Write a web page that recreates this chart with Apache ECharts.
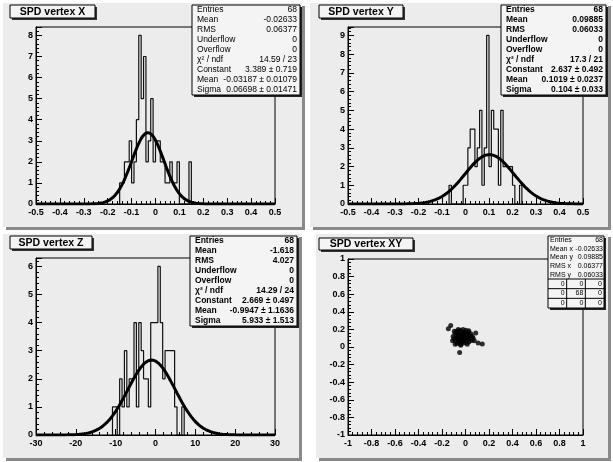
<!DOCTYPE html>
<html>
<head>
<meta charset="utf-8">
<script src="https://cdn.jsdelivr.net/npm/echarts@6/dist/echarts.min.js"></script>
<style>
  html, body { margin: 0; padding: 0; background: #fff; }
  #main { width: 613px; height: 462px; }
</style>
</head>
<body>
<div id="main"></div>
<script>
// ---- data ----
// SPD vertex X : bins of 0.01 starting at -0.15
const xBinLow = -0.15, xBinW = 0.01;
const xCounts = [1, 1, 2, 2, 3, 1, 2, 4, 8, 5, 7, 2, 3, 5, 2, 3, 3, 2, 2, 1, 1, 2, 1, 1, 2, 0, 0, 0, 0, 2];
const xFit = { constant: 3.389, mean: -0.03187, sigma: 0.06698 };
const xStats = [
  ['Entries', '68'], ['Mean', '-0.02633'], ['RMS', '0.06377'], ['Underflow', '0'], ['Overflow', '0'],
  ['χ² / ndf', '14.59 / 23'], ['Constant', '3.389 ± 0.719'], ['Mean', '-0.03187 ± 0.01079'], ['Sigma', '0.06698 ± 0.01471']
];

// SPD vertex Y : bins of 0.01 starting at -0.07
const yBinLow = -0.07, yBinW = 0.01;
const yCounts = [1, 0, 0, 0, 0, 0, 1, 1, 3, 4, 4, 2, 3, 5, 1, 3, 9, 2, 5, 4, 4, 1, 5, 2, 2, 2, 2, 1, 0, 0, 1];
const yFit = { constant: 2.637, mean: 0.1019, sigma: 0.104 };
const yStats = [
  ['Entries', '68'], ['Mean', '0.09885'], ['RMS', '0.06033'], ['Underflow', '0'], ['Overflow', '0'],
  ['χ² / ndf', '17.3 / 21'], ['Constant', '2.637 ± 0.492'], ['Mean', '0.1019 ± 0.0237'], ['Sigma', '0.104 ± 0.033']
];

// SPD vertex Z : bins of 0.6 starting at -10.8
const zBinLow = -10.8, zBinW = 0.6;
const zCounts = [1, 1, 0, 2, 1, 3, 1, 2, 2, 4, 1, 4, 3, 2, 2, 1, 4, 4, 4, 6, 4, 2, 3, 3, 3, 3, 1, 0, 0, 1];
const zFit = { constant: 2.669, mean: -0.9947, sigma: 5.933 };
const zStats = [
  ['Entries', '68'], ['Mean', '-1.618'], ['RMS', '4.027'], ['Underflow', '0'], ['Overflow', '0'],
  ['χ² / ndf', '14.29 / 24'], ['Constant', '2.669 ± 0.497'], ['Mean', '-0.9947 ± 1.1636'], ['Sigma', '5.933 ± 1.513']
];

// SPD vertex XY : points
const xyX = [-0.146, -0.126, -0.050, 0.143, 0.087, 0.075, 0.108, -0.105, -0.098, -0.090, -0.085, -0.080, -0.076, -0.072,
  -0.068, -0.064, -0.060, -0.057, -0.054, -0.050, -0.047, -0.044, -0.041, -0.038, -0.035, -0.032, -0.030, -0.027,
  -0.024, -0.021, -0.018, -0.015, -0.012, -0.010, -0.007, -0.004, 0.000, 0.003, 0.006, 0.010, 0.013, 0.017, 0.021,
  0.025, 0.030, 0.035, 0.040, 0.046, 0.052, -0.110, -0.095, -0.088, -0.062, -0.040, -0.028, -0.020, -0.008, 0.008,
  0.015, 0.028, 0.058, 0.065, -0.070, -0.052, -0.036, -0.003, 0.020, -0.078];
const xyY = [0.207, 0.244, -0.063, 0.033, 0.160, 0.070, 0.045, 0.120, 0.095, 0.150, 0.070, 0.110, 0.180, 0.040,
  0.130, 0.090, 0.160, 0.060, 0.110, 0.140, 0.080, 0.190, 0.030, 0.120, 0.100, 0.160, 0.060, 0.130,
  0.085, 0.200, 0.110, 0.045, 0.150, 0.090, 0.170, 0.070, 0.120, 0.190, 0.100, 0.050, 0.140, 0.085, 0.170,
  0.110, 0.060, 0.130, 0.095, 0.150, 0.075, 0.070, 0.180, 0.030, 0.200, 0.020, 0.095, 0.140, 0.125, 0.155,
  0.030, 0.185, 0.120, 0.100, 0.100, 0.125, 0.050, 0.105, 0.125, 0.145];
const xyStats = [['Entries', '68'], ['Mean x', '-0.02633'], ['Mean y', '0.09885'], ['RMS x', '0.06377'], ['RMS y', '0.06033']];
const xyCells = [[0, 0, 0], [0, 68, 0], [0, 0, 0]];

const titles = ['SPD vertex X', 'SPD vertex Y', 'SPD vertex Z', 'SPD vertex XY'];

// ---- helpers ----
function histLine(lo, w, counts) {
  let pts = [[lo, 0]];
  counts.forEach(function (c, i) {
    pts.push([lo + i * w, c]);
    pts.push([lo + (i + 1) * w, c]);
  });
  pts.push([lo + counts.length * w, 0]);
  return pts;
}
// fitted gaussian drawn from the fit parameters in the stat box
function gausLine(p, xmin, xmax) {
  let pts = [];
  let n = 300;
  for (let i = 0; i <= n; i++) {
    let x = xmin + (xmax - xmin) * i / n;
    let t = (x - p.mean) / p.sigma;
    pts.push([x, p.constant * Math.exp(-0.5 * t * t)]);
  }
  return pts;
}

const FONT = 'Liberation Sans, Arial, sans-serif';
const labelStyle = { color: '#000', fontSize: 9, fontWeight: 'bold', fontFamily: FONT };

function xAxis(gi, min, max, interval, dec) {
  return {
    type: 'value', gridIndex: gi, min: min, max: max, interval: interval,
    axisLine: { show: true, onZero: false, lineStyle: { color: '#000', width: 1 } },
    axisTick: { show: true, inside: true, length: 6, lineStyle: { color: '#000' } },
    minorTick: { show: true, splitNumber: 5, length: 3, lineStyle: { color: '#000' } },
    splitLine: { show: false },
    axisLabel: Object.assign({ margin: 4, formatter: function (v) { return String(+v.toFixed(dec)); } }, labelStyle)
  };
}
function yAxis(gi, min, max, interval, dec) {
  return {
    type: 'value', gridIndex: gi, min: min, max: max, interval: interval,
    axisLine: { show: true, onZero: false, lineStyle: { color: '#000', width: 1 } },
    axisTick: { show: true, inside: true, length: 6, lineStyle: { color: '#000' } },
    minorTick: { show: true, splitNumber: 5, length: 3, lineStyle: { color: '#000' } },
    splitLine: { show: false },
    axisLabel: Object.assign({
      margin: 3,
      formatter: function (v) {
        let r = +v.toFixed(dec);
        if (Math.abs(v - r) > 1e-6) return '';
        return String(r);
      }
    }, labelStyle)
  };
}

// ---- pads, title boxes and stat boxes ----
const pads = [
  { x: 3, y: 3, w: 299, h: 224 },
  { x: 310, y: 3, w: 298, h: 224 },
  { x: 3, y: 234, w: 296, h: 224 },
  { x: 316, y: 234, w: 292, h: 224 }
];
const titleBoxes = [
  { x: 10, y: 5, w: 85, h: 13 },
  { x: 319, y: 5, w: 84, h: 13 },
  { x: 10, y: 236, w: 82, h: 13 },
  { x: 319, y: 238, w: 94, h: 12 }
];
const statBoxes = [
  { x: 192, y: 5, w: 108, h: 90, rows: xStats, bold: false },
  { x: 501, y: 5, w: 105, h: 90, rows: yStats, bold: true },
  { x: 190, y: 236, w: 107, h: 90, rows: zStats, bold: true }
];

let graphic = [];
pads.forEach(function (p) {
  graphic.push({ type: 'rect', z: -10, shape: { x: p.x + 3, y: p.y + 3, width: p.w, height: p.h }, style: { fill: '#8a8a8a' } });
  graphic.push({ type: 'rect', z: -9, shape: { x: p.x, y: p.y, width: p.w, height: p.h }, style: { fill: '#ececec' } });
});
titleBoxes.forEach(function (b, i) {
  graphic.push({ type: 'rect', z: 50, shape: { x: b.x + 2, y: b.y + 2, width: b.w, height: b.h }, style: { fill: '#333' } });
  graphic.push({ type: 'rect', z: 51, shape: { x: b.x, y: b.y, width: b.w, height: b.h }, style: { fill: '#f4f4f4', stroke: '#000', lineWidth: 1 } });
  graphic.push({ type: 'text', z: 52, x: b.x + b.w / 2, y: b.y + b.h / 2 + 0.5,
    style: { text: titles[i], font: 'bold 10.5px ' + FONT, fill: '#000', align: 'center', verticalAlign: 'middle', textAlign: 'center', textVerticalAlign: 'middle' } });
});
statBoxes.forEach(function (b) {
  graphic.push({ type: 'rect', z: 50, shape: { x: b.x + 2, y: b.y + 2, width: b.w, height: b.h }, style: { fill: '#222' } });
  graphic.push({ type: 'rect', z: 51, shape: { x: b.x, y: b.y, width: b.w, height: b.h }, style: { fill: '#f4f4f4', stroke: '#000', lineWidth: 1 } });
  let rh = b.h / b.rows.length;
  let f = (b.bold ? 'bold ' : '') + '8.5px ' + FONT;
  b.rows.forEach(function (r, i) {
    let cy = b.y + rh * (i + 0.5);
    graphic.push({ type: 'text', z: 52, x: b.x + 5, y: cy,
      style: { text: r[0], font: f, fill: '#000', align: 'left', verticalAlign: 'middle', textAlign: 'left', textVerticalAlign: 'middle' } });
    graphic.push({ type: 'text', z: 52, x: b.x + b.w - 3, y: cy,
      style: { text: r[1], font: f, fill: '#000', align: 'right', verticalAlign: 'middle', textAlign: 'right', textVerticalAlign: 'middle' } });
  });
});
// XY stat box with its 3x3 cell table
(function () {
  let b = { x: 548, y: 236, w: 56, h: 72 };
  let rh = 8.6;
  let f = '7px ' + FONT;
  graphic.push({ type: 'rect', z: 50, shape: { x: b.x + 2, y: b.y + 2, width: b.w, height: b.h }, style: { fill: '#222' } });
  graphic.push({ type: 'rect', z: 51, shape: { x: b.x, y: b.y, width: b.w, height: b.h }, style: { fill: '#f4f4f4', stroke: '#000', lineWidth: 1 } });
  xyStats.forEach(function (r, i) {
    let cy = b.y + rh * (i + 0.5);
    graphic.push({ type: 'text', z: 52, x: b.x + 2, y: cy,
      style: { text: r[0], font: f, fill: '#000', align: 'left', verticalAlign: 'middle', textAlign: 'left', textVerticalAlign: 'middle' } });
    graphic.push({ type: 'text', z: 52, x: b.x + b.w - 1, y: cy,
      style: { text: r[1], font: f, fill: '#000', align: 'right', verticalAlign: 'middle', textAlign: 'right', textVerticalAlign: 'middle' } });
  });
  let ty = b.y + rh * xyStats.length;
  let ch = (b.y + b.h - ty) / 3;
  let cw = b.w / 3;
  for (let k = 0; k < 3; k++) {
    graphic.push({ type: 'line', z: 52, shape: { x1: b.x, y1: ty + k * ch, x2: b.x + b.w, y2: ty + k * ch }, style: { stroke: '#000', lineWidth: 1 } });
  }
  for (let k = 1; k < 3; k++) {
    graphic.push({ type: 'line', z: 52, shape: { x1: b.x + k * cw, y1: ty, x2: b.x + k * cw, y2: b.y + b.h }, style: { stroke: '#000', lineWidth: 1 } });
  }
  xyCells.forEach(function (row, r) {
    row.forEach(function (v, c) {
      graphic.push({ type: 'text', z: 52, x: b.x + (c + 1) * cw - 2, y: ty + ch * (r + 0.5),
        style: { text: String(v), font: f, fill: '#000', align: 'right', verticalAlign: 'middle', textAlign: 'right', textVerticalAlign: 'middle' } });
    });
  });
})();

const gridBase = { show: true, backgroundColor: '#ececec', borderColor: '#000', borderWidth: 1, containLabel: false };

let chart = echarts.init(document.getElementById('main'), null, { renderer: 'canvas' });
let option = {
  backgroundColor: '#ffffff',
  animation: false,
  graphic: graphic,
  grid: [
    Object.assign({ left: 36, top: 27, width: 239, height: 177 }, gridBase),
    Object.assign({ left: 348, top: 27, width: 235, height: 177 }, gridBase),
    Object.assign({ left: 36, top: 258, width: 239, height: 177 }, gridBase),
    Object.assign({ left: 348, top: 259, width: 235, height: 176 }, gridBase)
  ],
  xAxis: [
    xAxis(0, -0.5, 0.5, 0.1, 2),
    xAxis(1, -0.5, 0.5, 0.1, 2),
    xAxis(2, -30, 30, 10, 0),
    xAxis(3, -1, 1, 0.2, 2)
  ],
  yAxis: [
    yAxis(0, 0, 8.4, 1, 0),
    yAxis(1, 0, 9.45, 1, 0),
    yAxis(2, 0, 6.3, 1, 0),
    yAxis(3, -1, 1, 0.2, 2)
  ],
  series: [
    { type: 'line', xAxisIndex: 0, yAxisIndex: 0, data: histLine(xBinLow, xBinW, xCounts), showSymbol: false, lineStyle: { color: '#111', width: 1.2 } },
    { type: 'line', xAxisIndex: 0, yAxisIndex: 0, data: gausLine(xFit, -0.5, 0.5), showSymbol: false, smooth: false, lineStyle: { color: '#000', width: 3 } },
    { type: 'line', xAxisIndex: 1, yAxisIndex: 1, data: histLine(yBinLow, yBinW, yCounts), showSymbol: false, lineStyle: { color: '#111', width: 1.2 } },
    { type: 'line', xAxisIndex: 1, yAxisIndex: 1, data: gausLine(yFit, -0.5, 0.5), showSymbol: false, smooth: false, lineStyle: { color: '#000', width: 3 } },
    { type: 'line', xAxisIndex: 2, yAxisIndex: 2, data: histLine(zBinLow, zBinW, zCounts), showSymbol: false, lineStyle: { color: '#111', width: 1.2 } },
    { type: 'line', xAxisIndex: 2, yAxisIndex: 2, data: gausLine(zFit, -30, 30), showSymbol: false, smooth: false, lineStyle: { color: '#000', width: 3 } },
    { type: 'scatter', xAxisIndex: 3, yAxisIndex: 3, data: xyX.map(function (x, i) { return [x, xyY[i]]; }),
      symbol: 'circle', symbolSize: 5, itemStyle: { color: '#000' } }
  ]
};
chart.setOption(option);
</script>
</body>
</html>
